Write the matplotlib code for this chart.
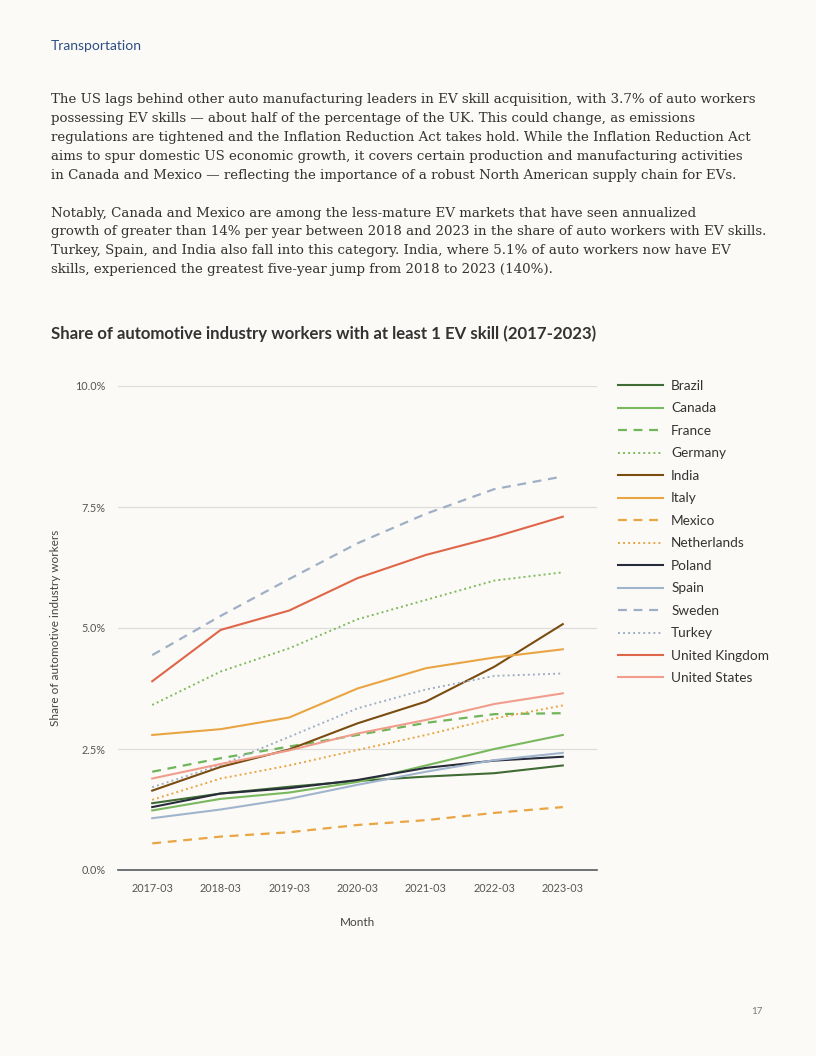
import matplotlib
matplotlib.use("Agg")
import matplotlib.pyplot as plt

# chart data (share of auto workers with EV skills, %)
months = ["2017-03", "2018-03", "2019-03", "2020-03", "2021-03", "2022-03", "2023-03"]

brazil = [1.38, 1.58, 1.72, 1.84, 1.93, 2.00, 2.16]
canada = [1.23, 1.47, 1.60, 1.82, 2.16, 2.50, 2.79]
france = [2.03, 2.31, 2.55, 2.79, 3.04, 3.22, 3.24]
germany = [3.41, 4.10, 4.58, 5.18, 5.58, 5.98, 6.15]
india = [1.64, 2.13, 2.49, 3.03, 3.48, 4.20, 5.08]
italy = [2.79, 2.91, 3.15, 3.75, 4.17, 4.39, 4.56]
mexico = [0.55, 0.69, 0.78, 0.93, 1.03, 1.18, 1.30]
netherlands = [1.45, 1.89, 2.16, 2.48, 2.79, 3.13, 3.40]
poland = [1.30, 1.58, 1.69, 1.86, 2.11, 2.26, 2.34]
spain = [1.07, 1.25, 1.47, 1.76, 2.03, 2.27, 2.42]
sweden = [4.44, 5.25, 6.01, 6.75, 7.36, 7.87, 8.13]
turkey = [1.71, 2.17, 2.75, 3.34, 3.73, 4.01, 4.06]
uk = [3.90, 4.96, 5.36, 6.03, 6.51, 6.88, 7.30]
us = [1.89, 2.19, 2.47, 2.82, 3.10, 3.43, 3.65]

series = [
    ("Brazil", brazil, "#3f6b34", "-"),
    ("Canada", canada, "#79b85e", "-"),
    ("France", france, "#6fb55a", "--"),
    ("Germany", germany, "#7dbb5b", ":"),
    ("India", india, "#7a4c10", "-"),
    ("Italy", italy, "#e9a543", "-"),
    ("Mexico", mexico, "#e9a543", "--"),
    ("Netherlands", netherlands, "#e9a543", ":"),
    ("Poland", poland, "#272c3b", "-"),
    ("Spain", spain, "#a0b5cd", "-"),
    ("Sweden", sweden, "#9fb0c6", "--"),
    ("Turkey", turkey, "#9fb0c6", ":"),
    ("United Kingdom", uk, "#e0664a", "-"),
    ("United States", us, "#f09d8c", "-"),
]

para1 = [
    "The US lags behind other auto manufacturing leaders in EV skill acquisition, with 3.7% of auto workers",
    "possessing EV skills \u2014 about half of the percentage of the UK. This could change, as emissions",
    "regulations are tightened and the Inflation Reduction Act takes hold. While the Inflation Reduction Act",
    "aims to spur domestic US economic growth, it covers certain production and manufacturing activities",
    "in Canada and Mexico \u2014 reflecting the importance of a robust North American supply chain for EVs.",
]
para2 = [
    "Notably, Canada and Mexico are among the less-mature EV markets that have seen annualized",
    "growth of greater than 14% per year between 2018 and 2023 in the share of auto workers with EV skills.",
    "Turkey, Spain, and India also fall into this category. India, where 5.1% of auto workers now have EV",
    "skills, experienced the greatest five-year jump from 2018 to 2023 (140%).",
]

bg = "#fcfaf6"
W, H = 816, 1056

fig = plt.figure(figsize=(8.16, 10.56), dpi=100, facecolor=bg)

# page text
fig.text(51 / W, 1 - 46 / H, "Transportation", color="#2b4f84", fontsize=10,
         family="Lato", va="center", ha="left")
for i, line in enumerate(para1):
    fig.text(51 / W, 1 - (100 + i * 18.8) / H, line, color="#333333", fontsize=9.6,
             family="DejaVu Serif", va="center", ha="left")
for i, line in enumerate(para2):
    fig.text(51 / W, 1 - (213 + i * 18.8) / H, line, color="#333333", fontsize=9.6,
             family="DejaVu Serif", va="center", ha="left")
fig.text(51 / W, 1 - 334 / H,
         "Share of automotive industry workers with at least 1 EV skill (2017-2023)",
         color="#333333", fontsize=12.1, family="Lato", weight="bold",
         va="center", ha="left")
fig.text(763 / W, 1 - 1012 / H, "17", color="#777777", fontsize=7,
         family="Lato", va="center", ha="right")

ax = fig.add_axes([118 / W, 1 - 870 / H, 479 / W, 484 / H])
ax.set_facecolor(bg)

x = list(range(len(months)))
for name, vals, col, ls in series:
    if ls == ":":
        ax.plot(x, vals, color=col, lw=1.4, linestyle=(0, (1, 1.6)), label=name)
    elif ls == "--":
        ax.plot(x, vals, color=col, lw=1.6, linestyle=(0, (4, 3)), label=name)
    else:
        ax.plot(x, vals, color=col, lw=1.5, label=name)

ax.set_xlim(-0.5, 6.5)
ax.set_ylim(0, 10)
ax.set_xticks(x)
ax.set_xticklabels(months)
ax.set_yticks([0, 2.5, 5, 7.5, 10])
ax.set_yticklabels(["0.0%", "2.5%", "5.0%", "7.5%", "10.0%"])
ax.tick_params(length=0, labelsize=7.8, labelcolor="#555555", pad=9)
for lab in ax.get_xticklabels() + ax.get_yticklabels():
    lab.set_family("Lato")
ax.grid(axis="y", color="#dddddd", lw=0.9)
ax.set_axisbelow(True)
for s in ["top", "right", "left"]:
    ax.spines[s].set_visible(False)
ax.spines["bottom"].set_color("#555b60")
ax.spines["bottom"].set_linewidth(1.2)
ax.spines["bottom"].set_zorder(5)

ax.set_xlabel("Month", fontsize=8.5, color="#444444", family="Lato", labelpad=17)
ax.set_ylabel("Share of automotive industry workers", fontsize=8.5, color="#444444",
              family="Lato", labelpad=10)

leg = ax.legend(loc="upper left", bbox_to_anchor=(618 / W, 1 - 380 / H),
                bbox_transform=fig.transFigure, frameon=False,
                prop={"family": "Lato", "size": 9.8}, labelcolor="#333333",
                handlelength=3.3, handletextpad=0.6, labelspacing=0.77,
                borderaxespad=0, borderpad=0)

fig.savefig("out.png", dpi=100, facecolor=bg)
